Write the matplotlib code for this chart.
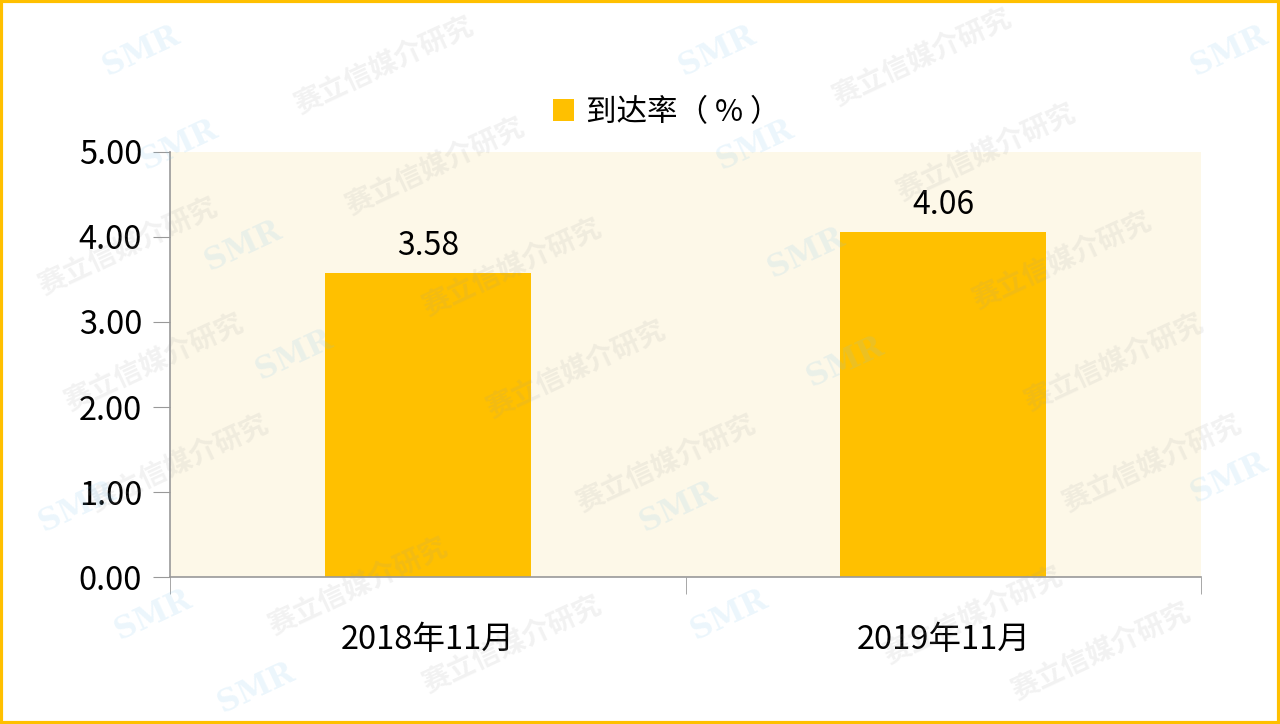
import matplotlib.pyplot as plt
from matplotlib.patches import Rectangle

plt.rcParams['font.family'] = ['Noto Sans CJK SC', 'DejaVu Sans']

categories = ['2018年11月', '2019年11月']
values = [3.58, 4.06]
series_name = '到达率（ % ）'
yticks = [0, 1, 2, 3, 4, 5]

bar_color = '#FFC000'
gold = '#FFC000'

fig = plt.figure(figsize=(12.8, 7.24), dpi=100)
fig.patch.set_facecolor('white')

ax = fig.add_axes([0.1328, 0.2030, 0.8055, 0.5871])
ax.set_facecolor('#FDF8E8')

x = list(range(len(categories)))
bars = ax.bar(x, values, width=0.4, color=bar_color, label=series_name, zorder=2)

for xi, v in zip(x, values):
    ax.annotate(f'{v:.2f}', (xi, v), xytext=(0, 8), textcoords='offset points',
                ha='center', va='bottom', fontsize=23, color='black')

ax.set_xlim(-0.5, len(categories) - 0.5)
ax.set_ylim(0, 5)
ax.set_yticks(yticks)
ax.set_yticklabels([f'{t:.2f}' for t in yticks], fontsize=23.5)
ax.set_xticks(x)
ax.set_xticklabels(categories, fontsize=23.5)
ax.tick_params(axis='x', length=0, pad=34)
ax.set_xticks([-0.5, 0.5, 1.5], minor=True)
ax.tick_params(axis='x', which='minor', length=12, color='#999999', direction='out')
ax.tick_params(axis='y', length=12, color='#999999', pad=8)

for s in ['top', 'right']:
    ax.spines[s].set_visible(False)
for s in ['left', 'bottom']:
    ax.spines[s].set_color('#999999')
    ax.spines[s].set_linewidth(1.2)

leg = fig.legend(handles=[bars], labels=[series_name], loc='center',
                 bbox_to_anchor=(0.521, 0.845), frameon=False, fontsize=22,
                 handlelength=0.7, handleheight=0.7, handletextpad=0.4)

# watermark
wm_pos = [(0.30, 0.91), (0.72, 0.92), (0.34, 0.77), (0.77, 0.79), (0.40, 0.63),
          (0.83, 0.64), (0.45, 0.49), (0.87, 0.50), (0.10, 0.66), (0.12, 0.50),
          (0.52, 0.36), (0.90, 0.36), (0.28, 0.19), (0.76, 0.15), (0.40, 0.11),
          (0.86, 0.10), (0.14, 0.36)]
for px, py in wm_pos:
    fig.text(px, py, '赛立信媒介研究', rotation=25, fontsize=20, fontweight='bold',
             color='#9a9a9a', alpha=0.13, ha='center', va='center', zorder=10)
smr_pos = [(0.11, 0.93), (0.56, 0.93), (0.14, 0.80), (0.59, 0.80), (0.19, 0.66),
           (0.63, 0.65), (0.23, 0.51), (0.66, 0.50), (0.06, 0.30), (0.53, 0.30),
           (0.12, 0.15), (0.57, 0.15), (0.20, 0.05), (0.96, 0.93), (0.96, 0.34)]
for px, py in smr_pos:
    fig.text(px, py, 'SMR', rotation=25, fontsize=22, fontweight='bold',
             color='#7fc4ee', alpha=0.15, ha='center', va='center', zorder=10,
             family='DejaVu Serif')

# gold border
fig.patches.append(Rectangle((0.001, 0.002), 0.998, 0.996, transform=fig.transFigure,
                             fill=False, edgecolor=gold, linewidth=3))

fig.savefig('out.png', dpi=100)
